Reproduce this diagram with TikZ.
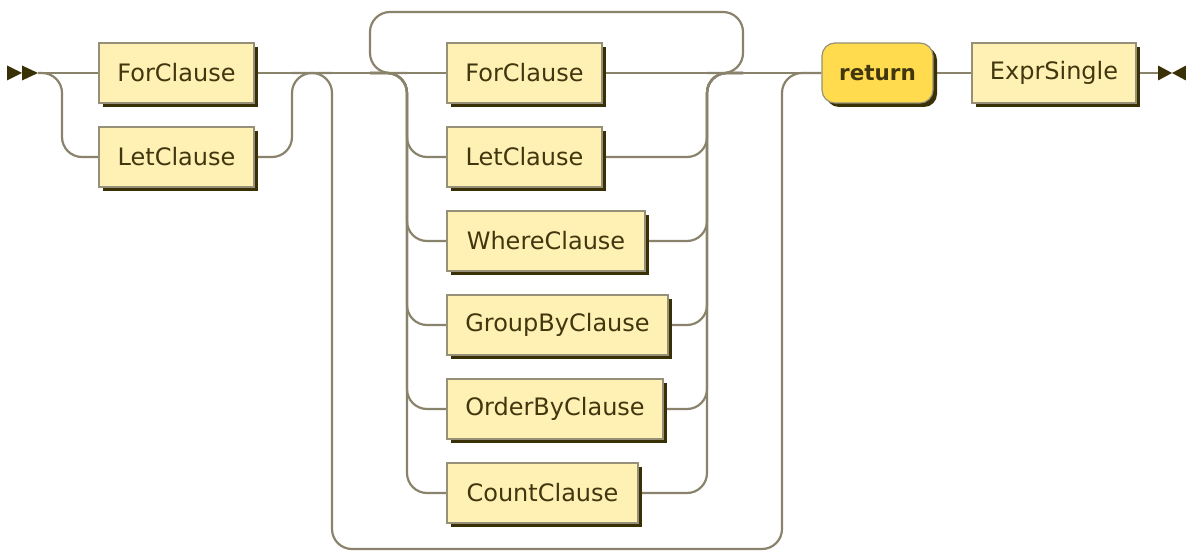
\documentclass[tikz,border=0pt]{standalone}
\usepackage{fontspec}
\setmainfont{DejaVu Sans}
\usepackage{tikz}
\usetikzlibrary{shadows,backgrounds}
\definecolor{railcol}{RGB}{138,131,108}
\definecolor{boxline}{RGB}{150,144,120}
\definecolor{boxfill}{RGB}{255,240,180}
\definecolor{termfill}{RGB}{255,219,77}
\definecolor{shadecol}{RGB}{58,48,5}
\definecolor{txtcol}{RGB}{65,55,15}
\tikzset{
ntbox/.style={
	rectangle,
	minimum height=60pt,
	inner sep=0pt,
	text centered,
	draw=boxline,
	line width=1.2pt,
	fill=boxfill,
	text=txtcol,
	font=\fontsize{24}{28}\selectfont,
	drop shadow={shadow xshift=4pt, shadow yshift=-4pt, fill=shadecol, opacity=1}
},
tbox/.style={
	ntbox,
	rounded corners=13pt,
	fill=termfill,
	font=\fontsize{21.5}{26}\selectfont\bfseries
},
rail/.style={
	draw=railcol,
	line width=2.2pt,
	line join=round,
	rounded corners=20pt
},
marker/.style={
	fill=shadecol
}
}

\begin{document}
\begin{tikzpicture}[x=1pt, y=-1pt]
\useasboundingbox (0,0) rectangle (1186,553);
% ===== Rail positions (main line at y = 73) =====
\coordinate (start)  at (38, 73);
\coordinate (railA)  at (62, 73);
\coordinate (railB)  at (292, 73);
\coordinate (railC)  at (332, 73);
\coordinate (railD)  at (370, 73);
\coordinate (railE)  at (407, 73);
\coordinate (railF)  at (707, 73);
\coordinate (railG)  at (743, 73);
\coordinate (railH)  at (782, 73);
\coordinate (top)    at (0, 12);
\coordinate (bot)    at (0, 549);
\coordinate (finish) at (1158, 73);
% ===== First choice =====
\node (for1)  [ntbox, minimum width=155pt] at (176.5, 73)  {ForClause};
\node (let1)  [ntbox, minimum width=155pt] at (176.5, 157) {LetClause};
% ===== Repeated choice =====
\node (for2)  [ntbox, minimum width=155pt] at (524.5, 73)  {ForClause};
\node (let2)  [ntbox, minimum width=155pt] at (524.5, 157) {LetClause};
\node (where) [ntbox, minimum width=198pt] at (546, 241)   {WhereClause};
\node (group) [ntbox, minimum width=221pt] at (557.5, 325) {GroupByClause};
\node (order) [ntbox, minimum width=216pt] at (555, 409)   {OrderByClause};
\node (count) [ntbox, minimum width=191pt] at (542.5, 493) {CountClause};
% ===== Tail =====
\node (ret)   [tbox, minimum width=111pt]  at (877.5, 73)  {return};
\node (expr)  [ntbox, minimum width=164pt] at (1054, 73)   {ExprSingle};

% start and end markers
\fill [marker] (7, 65.5) -- (22, 73) -- (7, 80.5) -- cycle;
\fill [marker] (22, 65.5) -- (38, 73) -- (22, 80.5) -- cycle;
\fill [marker] (1158, 65.5) -- (1172, 73) -- (1158, 80.5) -- cycle;
\fill [marker] (1186, 65.5) -- (1172, 73) -- (1186, 80.5) -- cycle;

\begin{scope}[on background layer]
% ===== Main line =====
\draw [rail] (start)     -- (for1.west);
\draw [rail] (for1.east) -- (for2.west);
\draw [rail] (for2.east) -- (ret.west);
\draw [rail] (ret.east)  -- (expr.west);
\draw [rail] (expr.east) -- (finish);
% first choice: LetClause branch
\draw [rail] (start) -| (railA |- let1.west) -- (let1.west);
\draw [rail] (let1.east) -| (railB) -- (railC);
% bypass under the whole repeated part
\draw [rail] (railB) -| (railC |- bot) -| (railH) -- (ret.west);
% loop back over the top
\draw [rail] (railF) -| (railG |- top) -| (railD) -- (railE);
% repeated choice branches
\foreach \b in {let2, where, group, order, count} {
  \draw [rail] (railD) -| (railE |- \b.west) -- (\b.west);
  \draw [rail] (\b.east) -| (railF) -- (railG);
}
\end{scope}

\end{tikzpicture}
\end{document}
